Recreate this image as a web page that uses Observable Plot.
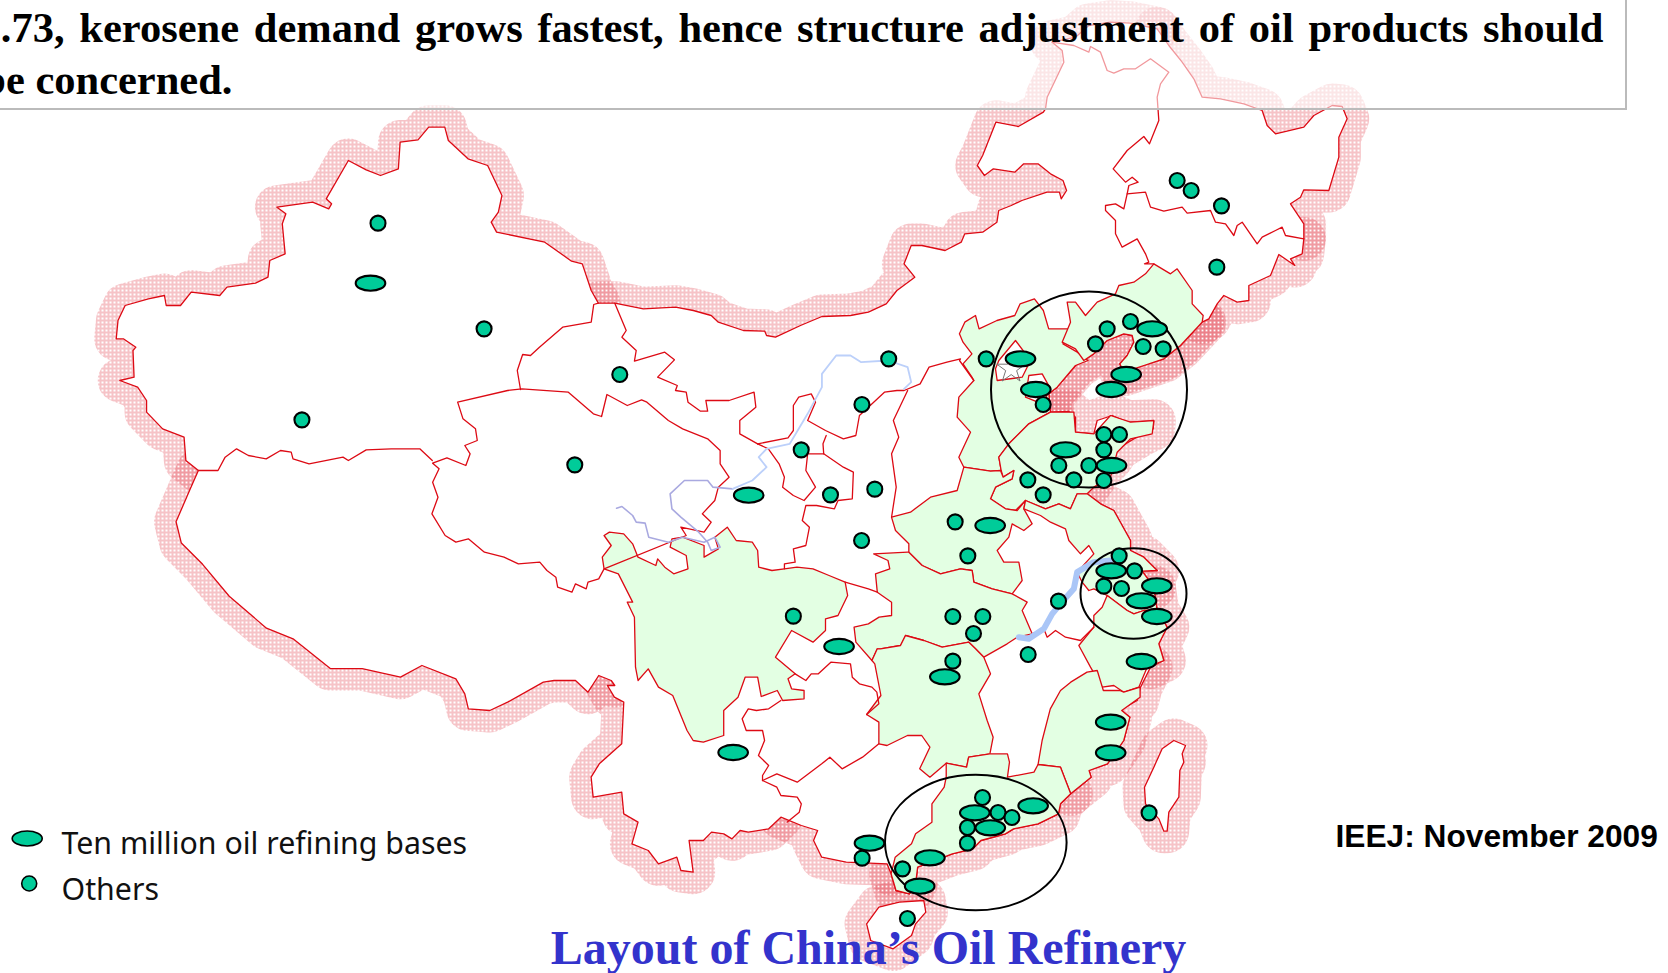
<!DOCTYPE html>
<html>
<head>
<meta charset="utf-8">
<script src="https://cdn.jsdelivr.net/npm/d3@7"></script>
<script src="https://cdn.jsdelivr.net/npm/@observablehq/plot@0.6"></script>
<style>
html,body{margin:0;padding:0;background:#fff;overflow:hidden}
svg{display:block}
</style>
</head>
<body>
<div id="chart"></div>
<script>
// Each reading of the picture is taken in a crop: [left, top, x magnification, y magnification]
const A=[80,90,2.8,3],B=[600,0,2.8,3],C=[960,0,3,3],D=[400,340,2.8,3],E=[880,380,3,3],F=[560,640,2.45,3],G=[960,280,3,3],S=[0,0,.94,.94],T=[1120,700,3,3];
const trace=(...parts)=>{const out=[];for(let i=0;i<parts.length;i+=2){const f=parts[i],p=parts[i+1];for(let j=0;j<p.length;j+=2)out.push([f[0]+p[j]/f[2],f[1]+p[j+1]/f[3]]);}return out;};

// outer edge of the country, clockwise, in stretches
const xinjiangEdge=trace(A,[330,1140,295,1110,290,1040,230,1015,185,965,185,930,160,890,110,870,150,860,147,780,155,770,120,745,100,745,105,690,125,645,190,625,235,615,240,645,280,645,310,605,390,615,410,590,490,578,525,560,530,510,573,490,565,400,575,370,550,350,650,335,695,355,703,340,688,325,750,210,800,238,840,255,890,235,895,155,945,148,975,110,1020,110,1030,150,1085,205,1140,225,1160,270,1180,315,1170,365,1150,395,1165,425,1300,455,1375,512,1405,520,1430,600,1450,638]);
const mongoliaEdge=trace(B,[-5,908,40,908,120,925,210,920,260,930,310,945,330,965,400,990,460,992,465,1005,490,1010,560,975,620,948,700,945,750,935,800,910,830,870,880,830,850,790,870,735,900,735,965,750,1010,725,1020,700,1070,695,1110,665,1115,630,1150,615,1180,600,1250,575,1285,575,1290,595,1305,570,1295,540,1260,520,1225,490,1185,490,1160,515,1100,505,1075,525,1055,495,1070,465,1107,365,1170,378,1240,335],C,[255,325,260,290,310,185,305,150,275,125,345,110,385,75,450,65,510,68,590,85]);
const heilongjiangEdge=trace(C,[590,85,625,135,665,185,700,235,725,290,780,295,850,310,905,330,920,375,945,400,1030,380,1060,345,1115,315,1145,318,1160,355,1135,410,1135,470,1105,570,1030,568,1020,590,990,610,1030,670,1030,715]);
const jilinEdge=trace(C,[1030,715,1025,760,990,775,1003,795,955,762,930,825,865,855,865,900,830,905,790,885,770,910,745,955,725,965]);
const bohaiEdge=trace(C,[725,965,660,1035],G,[610,235,550,255,490,275,478,250,500,225,520,185,515,165,490,160,440,180,400,220,345,255,290,320,265,340,270,395]);
const shandongEdge=trace(G,[270,395,325,393,345,410,345,455,400,460,410,420,455,405,500,425,580,422,578,445,545,460,470,505,455,530,410,580,380,625]);
const jiangsuEdge=trace(E,[620,325,620,340,660,370,700,390,750,480,750,510,790,530,830,570,785,572,820,620]);
const zhejiangEdge=trace(E,[820,620,830,690,860,740,835,790,850,840,810,860]);
const fujianEdge=trace(E,[810,860,780,920,770,960,725,985,735,1020],F,[1375,210,1395,230,1380,300,1340,370,1295,390,1300,410,1250,460]);
const guangdongEdge=trace(F,[1250,460,1225,490,1220,520,1170,550,1110,565,1090,580,1030,600,1010,625,960,640,875,680,870,730,855,760,822,750,810,700]);
const guangxiEdge=trace(F,[810,700,800,670,700,665,640,650,620,600,630,570,590,555,540,530]);
const yunnanEdge=trace(F,[540,530,510,565,460,575,440,570,420,595,400,580,370,575,350,600,315,600,325,695,295,690,285,650,240,670,215,630,175,610,190,545,155,520,150,455,80,470,75,410,95,370,150,310,155,185,132,170,115,135]);
const tibetEdge=trace(D,[600,1035,590,1020,555,1005,525,1055,490,1020,430,1020,400,1025,300,1085,250,1110,190,1105,180,1060,155,1015,60,975,0,1010],S,[340,628,310,628,275,600,250,590,215,560,190,530,170,510,165,490,178,460],A,[330,1140]);
const taiwan=trace(T,[160,120,195,135,185,160,190,185,178,210,175,290,145,335,140,392,130,392,115,355,75,310,72,260,100,200,125,145,160,120]);
const hainan=trace(F,[780,800,830,785,890,780,895,815,870,850,860,885,815,925,760,900,750,850,780,800]);

// provinces shaded green
const sichuan=trace(D,[570,685,565,650,590,615,570,585,585,575,625,580,650,610,665,650,715,675,720,655,740,680,765,700,805,685,800,645,755,620,760,595,790,590,850,615,850,650,890,625,880,590,915,560,940,600,985,605,1000,630,1003,680,1040,690,1075,685,1110,680,1155,685,1200,705,1245,725,1252,765,1225,825,1190,835,1190,870,1155,905,1095,870,1050,950,1105,1000,1085,1015,1095,1045,1130,1050,1130,1075,1070,1080,1055,1050,1010,1068,1000,1010,965,1010,945,1070,905,1110,905,1185],F,[350,305,325,300,310,270,275,165,240,140,215,85,190,120],D,[658,980,655,830,635,785,650,785,610,700,570,685]);
const hebei=trace(B,[1005,1000,1020,965,1050,945,1060,985,1110,960,1160,945,1175,910,1215,895,1240,930,1255,985,1315,985,1295,1030,1335,1055,1365,1080],G,[345,255,290,320,265,340],E,[510,95,445,130,385,190,355,230,362,270,330,272,250,260,235,230,270,155,230,110,235,50,280,0],B,[1040,1130,1015,1090,1040,1060,1015,1025,1005,1000]);
const liaoning=trace(C,[580,790,630,820,650,805,695,870,695,910,728,945,725,965,660,1035,610,1075,550,1095,490,1115,478,1090,500,1065,520,1025,515,1005,490,1000,440,1020,400,1060,370,1080,345,1045,305,1025,330,965,320,905,345,905,375,945,410,905,465,880,475,855,520,845,555,820,580,790]);
const shandong=trace(E,[510,95,445,130,385,190,355,230,362,270,368,290,400,270,395,295,345,320,330,355,375,385,405,390,435,360,495,385,535,370,570,385,590,340,620,340,640,320,690,290,710,215,750,175,815,160,820,120,750,125,690,105,640,160,585,155,580,95,510,95]);
const henan=trace(E,[33,410,90,395,150,350,230,330,250,260,330,272,360,270,368,290,400,270,395,295,345,320,330,355,375,385,410,390,435,360,430,385,455,430,430,450,395,430,385,470,350,510,370,545,415,545,425,600,395,640,335,625,280,605,275,570,240,565,180,580,125,555,85,515,85,490,45,450,33,410]);
const hubei=trace(D,[1325,640,1420,635],E,[85,515,125,555,180,580,240,565,275,570,280,605,335,625,395,640,440,665,425,690,455,760,410,770,380,790,310,830,285,805,265,785,185,800,130,780,75,765,60,795,0,805],D,[1335,925,1320,960,1275,905,1270,860,1310,850,1340,830,1375,825,1375,785,1335,755,1330,700,1370,685,1365,660,1325,640]);
const hunan=trace(D,[1335,925],E,[0,805,60,795,75,765,130,780,185,800,265,785,285,805,310,830,330,880,295,940,320,1020],F,[1060,290,1052,340,1000,350,995,380,945,368,905,410,880,385,905,320,885,285,850,285,800,315,780,310,780,245,750,222,785,165,770,70],D,[1320,960,1335,925]);
const jiangsu=trace(E,[435,360,495,385,535,370,570,385,590,340,620,340,660,370,700,390,750,480,750,510,790,530,830,570,785,572,820,620,830,690,790,690,760,700,740,690,680,645,640,625,625,630,605,605,590,575,640,520,625,495,600,520,565,480,555,445,510,425,480,405,430,385,435,360]);
const zhejiang=trace(E,[680,645,665,680,640,705,640,740,595,795,630,860,665,920,700,915,730,935,775,920,800,860,850,840,835,790,860,740,830,690,790,690,760,700,740,690,680,645]);
const fujian=trace(F,[1170,372,1180,300,1200,205,1225,150,1250,125,1290,95,1315,90,1330,150,1370,150,1380,155,1420,140,1420,170,1375,210,1395,230,1380,300,1340,370,1295,390,1300,410,1250,460,1225,380,1170,372]);
const guangdong=trace(F,[945,368,945,410,940,440,910,490,910,545,870,580,860,610,820,650,810,700,822,750,855,760,870,730,875,680,960,640,1010,625,1030,600,1090,580,1110,565,1170,550,1220,520,1225,490,1250,460,1225,380,1170,372,1160,395,1095,410,1100,365,1095,340,1052,340,1000,350,995,380,945,368]);

// province lines between unshaded provinces
const xinjiangGansu=trace(A,[1450,638,1437,642,1430,695,1350,710,1285,770,1260,795,1238,792,1223,840,1232,897]);
const xinjiangTibet=trace(A,[330,1140,385,1140,405,1100,437,1075,470,1095,520,1105,560,1080,590,1085,595,1105,640,1120,735,1100,750,1110,800,1078,870,1075,950,1075,985,1110]);
const qinghai=trace(D,[160,185,175,235,210,265,215,300,180,315,195,340,183,375,130,352,90,368,108,385,90,425,105,470,88,520,125,585,155,605,190,595,235,635,290,650,330,670,390,665,410,690,435,710,440,740,480,755,490,730,520,745,525,725,555,715,570,685],D,[800,585,785,560,850,575,870,545,845,520,880,480,890,440,920,410,895,370,895,330,860,295,790,265,750,240,690,185,675,178,635,195,578,162,563,228,540,220,470,155,340,145,300,150,160,185]);
const gansuMongolia=trace(B,[40,908,72,990,60,1010,100,1050,95,1082,180,1055,207,1078,160,1130,215,1155],D,[770,150,800,155,805,185,840,212,860,212,855,180,920,180,990,155,995,200,950,240,950,280,1000,310]);
const gansuShaanxi=trace(D,[1000,310,1030,325,1060,370,1075,410,1070,440,1100,465,1130,480,1162,440,1135,390,1140,340,1185,340,1240,380,1268,395,1265,475,1225,480,1215,505,1165,495,1135,495,1125,540,1145,560,1135,615,1100,625,1105,665,1075,670,1075,685]);
const ningxiaLink=trace(D,[1185,340,1183,310,1192,285]);
const shaanxiNorth=trace(D,[1000,310,1085,292,1100,270,1100,195,1115,170,1150,160,1162,185,1140,240,1190,270,1240,295,1275,285,1285,225,1355,155,1390,150,1410,150,1455,130,1480,80,1530,65,1568,55],E,[237,-60,280,0]);
const shanxiEast=trace(D,[1420,150,1380,240,1395,290,1375,340,1388,440,1375,530]);
const shaanxiHubei=trace(D,[1245,725,1310,745,1335,755]);
const chongqingGuizhou=trace(D,[1105,1000,1135,1020,1150,1000,1170,1000,1205,965,1260,970,1265,1010,1285,1030,1320,1040],F,[775,155,780,190,750,222]);
const guizhouYunnan=trace(F,[540,180,510,205,480,210,460,205,445,235,455,270,495,270,500,300,485,345,510,375,495,405,495,420]);
const guizhouGuangxi=trace(F,[495,420,530,400,580,425,640,370,660,350,690,385,740,350,780,310]);
const yunnanGuangxi=trace(F,[495,420,530,440,540,465,580,470,590,490,585,515,555,545]);
const mongoliaJilin=trace(C,[275,125,340,135,385,155,390,138,420,155,440,210,460,218,490,205,525,205,570,175,625,215,600,250,590,290,595,360,567,430,550,408,500,450,458,505,495,545,515,530,533,545,505,555,500,580,490,625,465,610,435,615,435,630,465,660,465,700,485,740,530,715,555,760,565,785,552,790,580,790]);
const heilongjiangJilin=trace(C,[500,580,555,575,570,620,610,632,665,620,680,638,750,630,765,665,795,670,820,705,830,675,845,665,890,730,905,710,945,690,965,680,975,705,1030,715]);
const anhuiJiangxi=trace(E,[455,760,490,745,500,770,525,750,555,770,600,780,640,740]);
const beijing=trace(G,[115,240,165,180,210,240,185,290,110,300,105,265,115,240]);
const tianjin=trace(G,[205,285,245,280,270,325,245,370,195,350,205,285]);
const yellowRiverUpper=trace(D,[605,503,620,498,650,525,660,545,685,548,695,590,750,605,790,590,850,605,880,590,895,620,870,630,860,605,835,575,785,530,760,505,755,460,795,420,860,420,875,440,930,445]);
const yellowRiverLower=trace(D,[930,445,985,420,1025,380,1003,350,1025,325,1090,310,1140,220,1180,140,1180,100,1220,45,1260,45,1290,65,1365,60,1420,80,1430,125,1410,145]);
const yangtze=trace(E,[415,770,445,775,490,745,515,700,540,670,580,625,590,575,640,545,690,540]);

// refineries
const otherSites=[...trace(A,[833,398,1130,715,620,988,1510,852]),...trace(D,[488,373,1367,55,1292,192,1122,328,1204,463,1328,446,1291,600,1100,827]),...trace(B,[1080,1075]),...trace(C,[650,540,692,570,783,616,769,800]),...trace(G,[440,145,510,123,405,190,548,198,608,205,248,372,430,462,477,462,430,508,295,555,385,555,202,598,340,598,430,600,248,643]),...trace(E,[224,424,262,526,716,526,762,571,670,617,723,624,534,662,217,708,307,708,279,759,443,822,217,842]),...trace(F,[739,653,838,685,850,834,1442,517,1034,471,1072,516,1106,531,997,561,997,608])];
const tenMillionBases=[...trace(A,[812,578]),...trace(D,[975,464,1228,918]),...trace(G,[575,145,180,235,226,327,497,282,452,327,315,508,453,555]),...trace(E,[329,435,692,571,829,616,783,661,829,708,783,843,193,889]),...trace(F,[423,336,1348,245,1348,337,1158,496,1015,517,1053,562,905,652,757,608,880,737])];
const legendOval=[[26.7,838]], legendDot=[[28.7,883]];
const beijingStar=trace(G,[152,265]);
const bohaiRing=[[1088.5,389]], deltaRing=[[1133,593]], pearlRing=[[975.3,842]];

// texts
const titleLines=[".73, kerosene demand grows fastest, hence structure adjustment of oil products should","be concerned."];
const legendLabels=["Ten million oil refining bases","Others"];
const captionText="Layout of China\u2019s Oil Refinery";
const sourceText="IEEJ: November 2009";

const rows=o=>Object.entries(o).flatMap(([id,pts])=>pts.map(([x,y])=>({x,y,id})));
const ellipse=aspect=>({draw(ctx,size){const rx=Math.sqrt(size/Math.PI),ry=rx/aspect,k=.5523;
  ctx.moveTo(rx,0);
  ctx.bezierCurveTo(rx,ry*k,rx*k,ry,0,ry);
  ctx.bezierCurveTo(-rx*k,ry,-rx,ry*k,-rx,0);
  ctx.bezierCurveTo(-rx,-ry*k,-rx*k,-ry,0,-ry);
  ctx.bezierCurveTo(rx*k,-ry,rx,-ry*k,rx,0);
  ctx.closePath();}});

const edges={xinjiangEdge,mongoliaEdge,heilongjiangEdge,jilinEdge,bohaiEdge,shandongEdge,jiangsuEdge,zhejiangEdge,fujianEdge,guangdongEdge,guangxiEdge,yunnanEdge,tibetEdge};
const country=[...xinjiangEdge,...mongoliaEdge,...heilongjiangEdge,...jilinEdge,...bohaiEdge,...shandongEdge,...jiangsuEdge,...zhejiangEdge,...fujianEdge,...guangdongEdge,...guangxiEdge,...yunnanEdge,...tibetEdge];
const shaded={sichuan,hebei,liaoning,shandong,henan,hubei,hunan,jiangsu,zhejiang,fujian,guangdong};
const inner={xinjiangGansu,xinjiangTibet,qinghai,gansuMongolia,gansuShaanxi,ningxiaLink,shaanxiNorth,shanxiEast,shaanxiHubei,chongqingGuizhou,guizhouYunnan,guizhouGuangxi,yunnanGuangxi,mongoliaJilin,heilongjiangJilin,anhuiJiangxi};
const RED="#dd0a14",GREEN="#00cc99",PALE="#e3ffe3";
const pt=a=>a.map(([x,y])=>({x,y}));
const line=(o,opts)=>Plot.line(rows(o),{x:"x",y:"y",z:"id",...opts});

const plot=Plot.plot({
  width:1668,height:973,margin:0,
  x:{domain:[0,1668],range:[0,1668],axis:null},
  y:{domain:[0,973],range:[0,973],axis:null},
  marks:[
    line({...edges,taiwan,hainan},{stroke:"url(#halo)",strokeWidth:44}),
    line({bohaiEdge},{stroke:"url(#halo)",strokeWidth:48}),
    line({country:[...country,country[0]],taiwan,hainan},{fill:"#fff",stroke:RED,strokeWidth:1.3}),
    line(shaded,{fill:PALE,stroke:RED,strokeWidth:1.3}),
    line({beijing,tianjin},{fill:"#fff",stroke:RED,strokeWidth:1.3}),
    line(inner,{stroke:RED,strokeWidth:1.3}),
    line({yellowRiverUpper},{stroke:"#a9a9e0",strokeWidth:1.6}),
    line({yellowRiverLower},{stroke:"#bcd0fa",strokeWidth:1.8}),
    line({yangtze},{stroke:"#aac6f7",strokeWidth:6}),
    Plot.dot(pt(beijingStar),{x:"x",y:"y",symbol:"star",r:9,stroke:"#777",fill:"none",strokeWidth:1}),
    Plot.rect([{x1:-10,x2:1626,y1:-10,y2:109}],{x1:"x1",x2:"x2",y1:"y1",y2:"y2",fill:"#fff",fillOpacity:.58}),
    Plot.rect([{x1:-10,x2:1626,y1:-10,y2:109}],{x1:"x1",x2:"x2",y1:"y1",y2:"y2",fill:"none",stroke:"#bbb",strokeWidth:2}),
    Plot.text([titleLines[0]],{x:()=>1603,y:()=>41,text:d=>d,textAnchor:"end",lineAnchor:"bottom",fontFamily:"Liberation Serif",fontWeight:"bold",fontSize:42.5,fill:"#000"}),
    Plot.text([titleLines[1]],{x:()=>232,y:()=>93,text:d=>d,textAnchor:"end",lineAnchor:"bottom",fontFamily:"Liberation Serif",fontWeight:"bold",fontSize:42.5,fill:"#000"}),
    Plot.dot(pt(bohaiRing),{x:"x",y:"y",symbol:ellipse(1),r:98,stroke:"#000",fill:"none",strokeWidth:2}),
    Plot.dot(pt(deltaRing),{x:"x",y:"y",symbol:ellipse(53/45.3),r:53,stroke:"#000",fill:"none",strokeWidth:2}),
    Plot.dot(pt(pearlRing),{x:"x",y:"y",symbol:ellipse(90.8/67.8),r:90.8,stroke:"#000",fill:"none",strokeWidth:2}),
    Plot.dot(pt(tenMillionBases),{x:"x",y:"y",symbol:ellipse(1.95),r:14.8,fill:GREEN,stroke:"#000",strokeWidth:2.1}),
    Plot.dot(pt(otherSites),{x:"x",y:"y",r:7.5,fill:GREEN,stroke:"#000",strokeWidth:2.1}),
    Plot.dot(pt(legendOval),{x:"x",y:"y",symbol:ellipse(2),r:15,fill:GREEN,stroke:"#000",strokeWidth:1.6}),
    Plot.dot(pt(legendDot),{x:"x",y:"y",r:7.5,fill:GREEN,stroke:"#000",strokeWidth:1.6}),
    Plot.text([legendLabels[0]],{x:()=>61,y:()=>853,text:d=>d,textAnchor:"start",lineAnchor:"bottom",fontFamily:"Noto Sans",fontSize:30.3,fill:"#111"}),
    Plot.text([legendLabels[1]],{x:()=>61,y:()=>899,text:d=>d,textAnchor:"start",lineAnchor:"bottom",fontFamily:"Noto Sans",fontSize:30.3,fill:"#111"}),
    Plot.text([sourceText],{x:()=>1335,y:()=>846,text:d=>d,textAnchor:"start",lineAnchor:"bottom",fontFamily:"Liberation Sans",fontWeight:"bold",fontSize:31.7,fill:"#000"}),
    Plot.text([captionText],{x:()=>868,y:()=>963,text:d=>d,textAnchor:"middle",lineAnchor:"bottom",fontFamily:"Liberation Serif",fontWeight:"bold",fontSize:48,fill:"#3333cc"})
  ]
});
const defs=d3.select(plot).insert("defs",":first-child");
const pat=defs.append("pattern").attr("id","halo").attr("patternUnits","userSpaceOnUse").attr("width",4).attr("height",4);
pat.append("path").attr("d","M0 0H4V4H0Z M1 1V3H3V1Z").attr("fill-rule","evenodd").attr("fill","#e4505c").attr("fill-opacity",.34);
d3.select(plot).selectAll("text").filter(function(){return this.textContent===titleLines[0];}).style("word-spacing","4.1px");
document.getElementById("chart").appendChild(plot);
</script>
</body>
</html>
